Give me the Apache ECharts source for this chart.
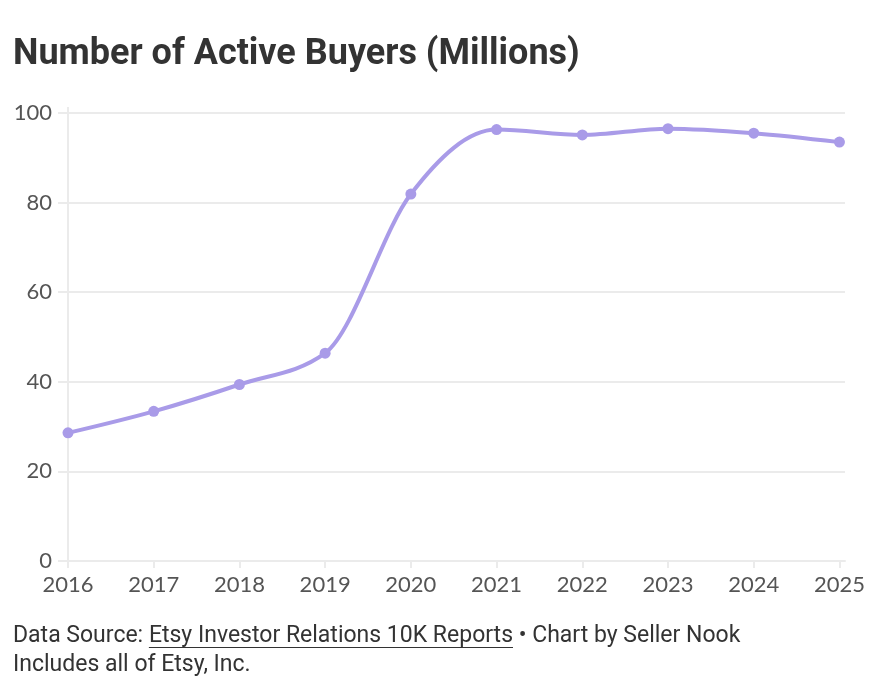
<!DOCTYPE html>
<html>
<head>
<meta charset="utf-8">
<script src="https://cdn.jsdelivr.net/npm/echarts@6/dist/echarts.min.js"></script>
<style>
  html, body { margin: 0; padding: 0; background: #fff; }
  #chart { width: 888px; height: 686px; }
</style>
</head>
<body>
<div id="chart"></div>
<script>
// Etsy active buyers, millions
var years = [2016, 2017, 2018, 2019, 2020, 2021, 2022, 2023, 2024, 2025];
var buyers = [28.6, 33.4, 39.4, 46.4, 81.9, 96.3, 95.1, 96.5, 95.5, 93.5];
var yTicks = [0, 20, 40, 60, 80, 100];

var lineColor = '#a99be8';
var gridColor = '#ebebeb';
var footFont = '23px Roboto';

var points = years.map(function (y, i) { return [y, buyers[i]]; });

// monotone-x cubic (like d3.curveMonotoneX), done on pixel coords
function monotoneSegments(pts) {
  var n = pts.length;
  var h = [], s = [], t = [];
  for (var i = 0; i < n - 1; i++) {
    h.push(pts[i + 1][0] - pts[i][0]);
    s.push((pts[i + 1][1] - pts[i][1]) / h[i]);
  }
  function sign(v) { return v < 0 ? -1 : 1; }
  for (var i = 1; i < n - 1; i++) {
    var p = (s[i - 1] * h[i] + s[i] * h[i - 1]) / (h[i - 1] + h[i]);
    t[i] = (sign(s[i - 1]) + sign(s[i])) *
      Math.min(Math.abs(s[i - 1]), Math.abs(s[i]), 0.5 * Math.abs(p)) || 0;
  }
  t[0] = (3 * s[0] - t[1]) / 2;
  t[n - 1] = (3 * s[n - 2] - t[n - 2]) / 2;
  var segs = [];
  for (var i = 0; i < n - 1; i++) {
    var dx = h[i] / 3;
    segs.push({
      x1: pts[i][0], y1: pts[i][1],
      cpx1: pts[i][0] + dx, cpy1: pts[i][1] + dx * t[i],
      cpx2: pts[i + 1][0] - dx, cpy2: pts[i + 1][1] - dx * t[i + 1],
      x2: pts[i + 1][0], y2: pts[i + 1][1]
    });
  }
  return segs;
}

// underline position for the link text in the footer
var ctx = document.createElement('canvas').getContext('2d');
ctx.font = footFont;
var linkX = 13 + ctx.measureText('Data Source: ').width;
var linkW = ctx.measureText('Etsy Investor Relations 10K Reports').width;

var chart = echarts.init(document.getElementById('chart'));

var option = {
  backgroundColor: '#fff',
  animation: false,
  title: {
    text: 'Number of Active Buyers (Millions)',
    left: 8,
    top: 32,
    textStyle: {
      fontFamily: 'Roboto',
      fontWeight: 'bold',
      fontSize: 36,
      color: '#333'
    }
  },
  grid: {
    left: 68,
    right: 43,
    top: 113,
    bottom: 125
  },
  xAxis: {
    type: 'value',
    min: years[0],
    max: years[years.length - 1] + 0.065,
    axisLine: { show: true, lineStyle: { color: gridColor, width: 2 } },
    axisTick: {
      show: true,
      length: 7,
      customValues: years,
      lineStyle: { color: gridColor, width: 2 }
    },
    splitLine: { show: false },
    axisLabel: {
      customValues: years,
      margin: 13,
      fontFamily: 'Lato',
      fontSize: 22,
      color: '#555',
      formatter: function (v) { return String(v); }
    }
  },
  yAxis: {
    type: 'value',
    min: 0,
    max: 100,
    interval: 20,
    axisLine: { show: true, lineStyle: { color: gridColor, width: 2 } },
    axisTick: { show: true, length: 10, lineStyle: { color: gridColor, width: 2 } },
    splitLine: { show: true, lineStyle: { color: gridColor, width: 2 } },
    axisLabel: {
      margin: 16,
      fontFamily: 'Lato',
      fontSize: 22,
      color: '#555'
    }
  },
  series: [
    {
      type: 'custom',
      data: points,
      clip: false,
      z: 2,
      renderItem: function (params, api) {
        if (params.dataIndex !== 0) return null;
        var px = points.map(function (p) { return api.coord(p); });
        var segs = monotoneSegments(px);
        return {
          type: 'group',
          children: segs.map(function (sg) {
            return {
              type: 'bezierCurve',
              shape: sg,
              style: { stroke: lineColor, lineWidth: 4, fill: null, lineCap: 'round' }
            };
          })
        };
      }
    },
    {
      type: 'scatter',
      data: points,
      symbol: 'circle',
      symbolSize: 11,
      z: 3,
      itemStyle: { color: lineColor, opacity: 1 }
    }
  ],
  graphic: [
    {
      // y axis line runs a little above the top gridline
      type: 'line',
      shape: { x1: 68, y1: 107, x2: 68, y2: 113 },
      style: { stroke: gridColor, lineWidth: 2 }
    },
    {
      type: 'text',
      left: 13,
      top: 625,
      style: {
        text: 'Data Source: Etsy Investor Relations 10K Reports • Chart by Seller Nook',
        font: footFont,
        fill: '#333'
      }
    },
    {
      type: 'text',
      left: 13,
      top: 654,
      style: {
        text: 'Includes all of Etsy, Inc.',
        font: footFont,
        fill: '#333'
      }
    },
    {
      type: 'line',
      shape: { x1: linkX, y1: 647.5, x2: linkX + linkW, y2: 647.5 },
      style: { stroke: '#333', lineWidth: 1 }
    }
  ]
};

chart.setOption(option);
</script>
</body>
</html>
